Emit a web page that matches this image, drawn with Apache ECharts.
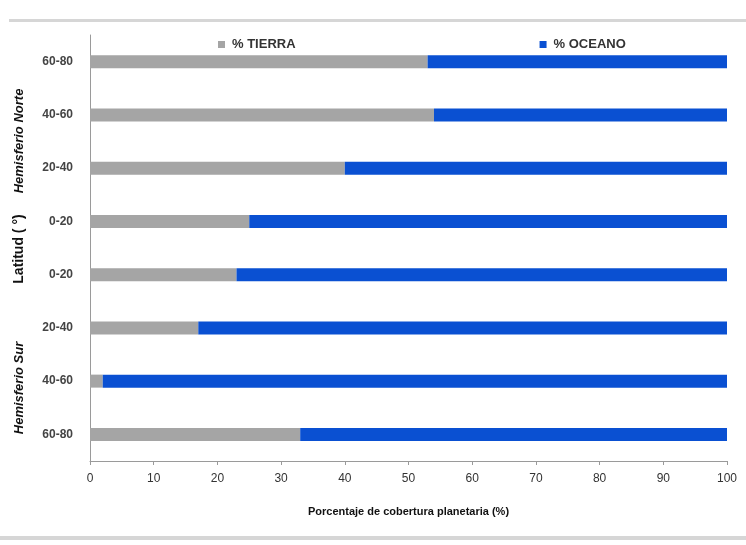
<!DOCTYPE html>
<html>
<head>
<meta charset="utf-8">
<script src="https://cdn.jsdelivr.net/npm/echarts@6/dist/echarts.min.js"></script>
<style>
  html, body { margin: 0; padding: 0; background: #fff; }
  #chart { width: 746px; height: 545px; }
</style>
</head>
<body>
<div id="chart"></div>
<script>
// Latitude bands, listed bottom to top (south pole band first)
const bands = ['60-80', '40-60', '20-40', '0-20', '0-20', '20-40', '40-60', '60-80'];
// Share of each band covered by land and by ocean (%)
const tierra = [33, 2, 17, 23, 25, 40, 54, 53];
const oceano = [67, 98, 83, 77, 75, 60, 46, 47];
const xTicks = { min: 0, max: 100, interval: 10 };

const FONT = 'Liberation Sans, Arial, sans-serif';
const chart = echarts.init(document.getElementById('chart'));

chart.setOption({
  animation: false,
  textStyle: { fontFamily: FONT },
  legend: {
    top: 33,
    left: 213,
    itemGap: 244,
    itemWidth: 7,
    itemHeight: 7,
    icon: 'rect',
    textStyle: { fontSize: 13, fontWeight: 'bold', color: '#333', padding: [0, 0, 0, 2] },
    data: ['% TIERRA', '% OCEANO']
  },
  grid: { left: 90, right: 19, top: 35, bottom: 84, containLabel: false },
  xAxis: {
    type: 'value',
    min: xTicks.min,
    max: xTicks.max,
    interval: xTicks.interval,
    name: 'Porcentaje de cobertura planetaria (%)',
    nameLocation: 'middle',
    nameGap: 45,
    nameTextStyle: { fontSize: 11, fontWeight: 'bold', color: '#111' },
    axisLine: { show: true, lineStyle: { color: '#9a9a9a' } },
    axisTick: { show: true, length: 4, lineStyle: { color: '#9a9a9a' } },
    axisLabel: { fontSize: 12, color: '#333', margin: 12 },
    splitLine: { show: false }
  },
  yAxis: {
    type: 'category',
    data: bands,
    axisLine: { show: true, lineStyle: { color: '#9a9a9a' } },
    axisTick: { show: false },
    axisLabel: { fontSize: 12, fontWeight: 'bold', color: '#444', margin: 17 }
  },
  series: [
    {
      name: '% TIERRA',
      type: 'bar',
      stack: 'total',
      barWidth: 13,
      itemStyle: { color: '#a5a5a5' },
      data: tierra
    },
    {
      name: '% OCEANO',
      type: 'bar',
      stack: 'total',
      barWidth: 13,
      itemStyle: { color: '#0a50d2' },
      data: oceano
    }
  ],
  graphic: [
    { type: 'rect', shape: { x: 9, y: 19, width: 737, height: 3 }, style: { fill: '#d6d6d6' } },
    { type: 'rect', shape: { x: 0, y: 536, width: 746, height: 4 }, style: { fill: '#d6d6d6' } },
    {
      type: 'text', x: 19, y: 141, rotation: Math.PI / 2,
      style: { text: 'Hemisferio Norte', font: 'italic bold 13px ' + FONT,
               fill: '#111', align: 'center', verticalAlign: 'middle' }
    },
    {
      type: 'text', x: 19, y: 249, rotation: Math.PI / 2,
      style: { text: 'Latitud ( °)', font: 'bold 14px ' + FONT,
               fill: '#111', align: 'center', verticalAlign: 'middle' }
    },
    {
      type: 'text', x: 19, y: 388, rotation: Math.PI / 2,
      style: { text: 'Hemisferio Sur', font: 'italic bold 13px ' + FONT,
               fill: '#111', align: 'center', verticalAlign: 'middle' }
    }
  ]
});
</script>
</body>
</html>
